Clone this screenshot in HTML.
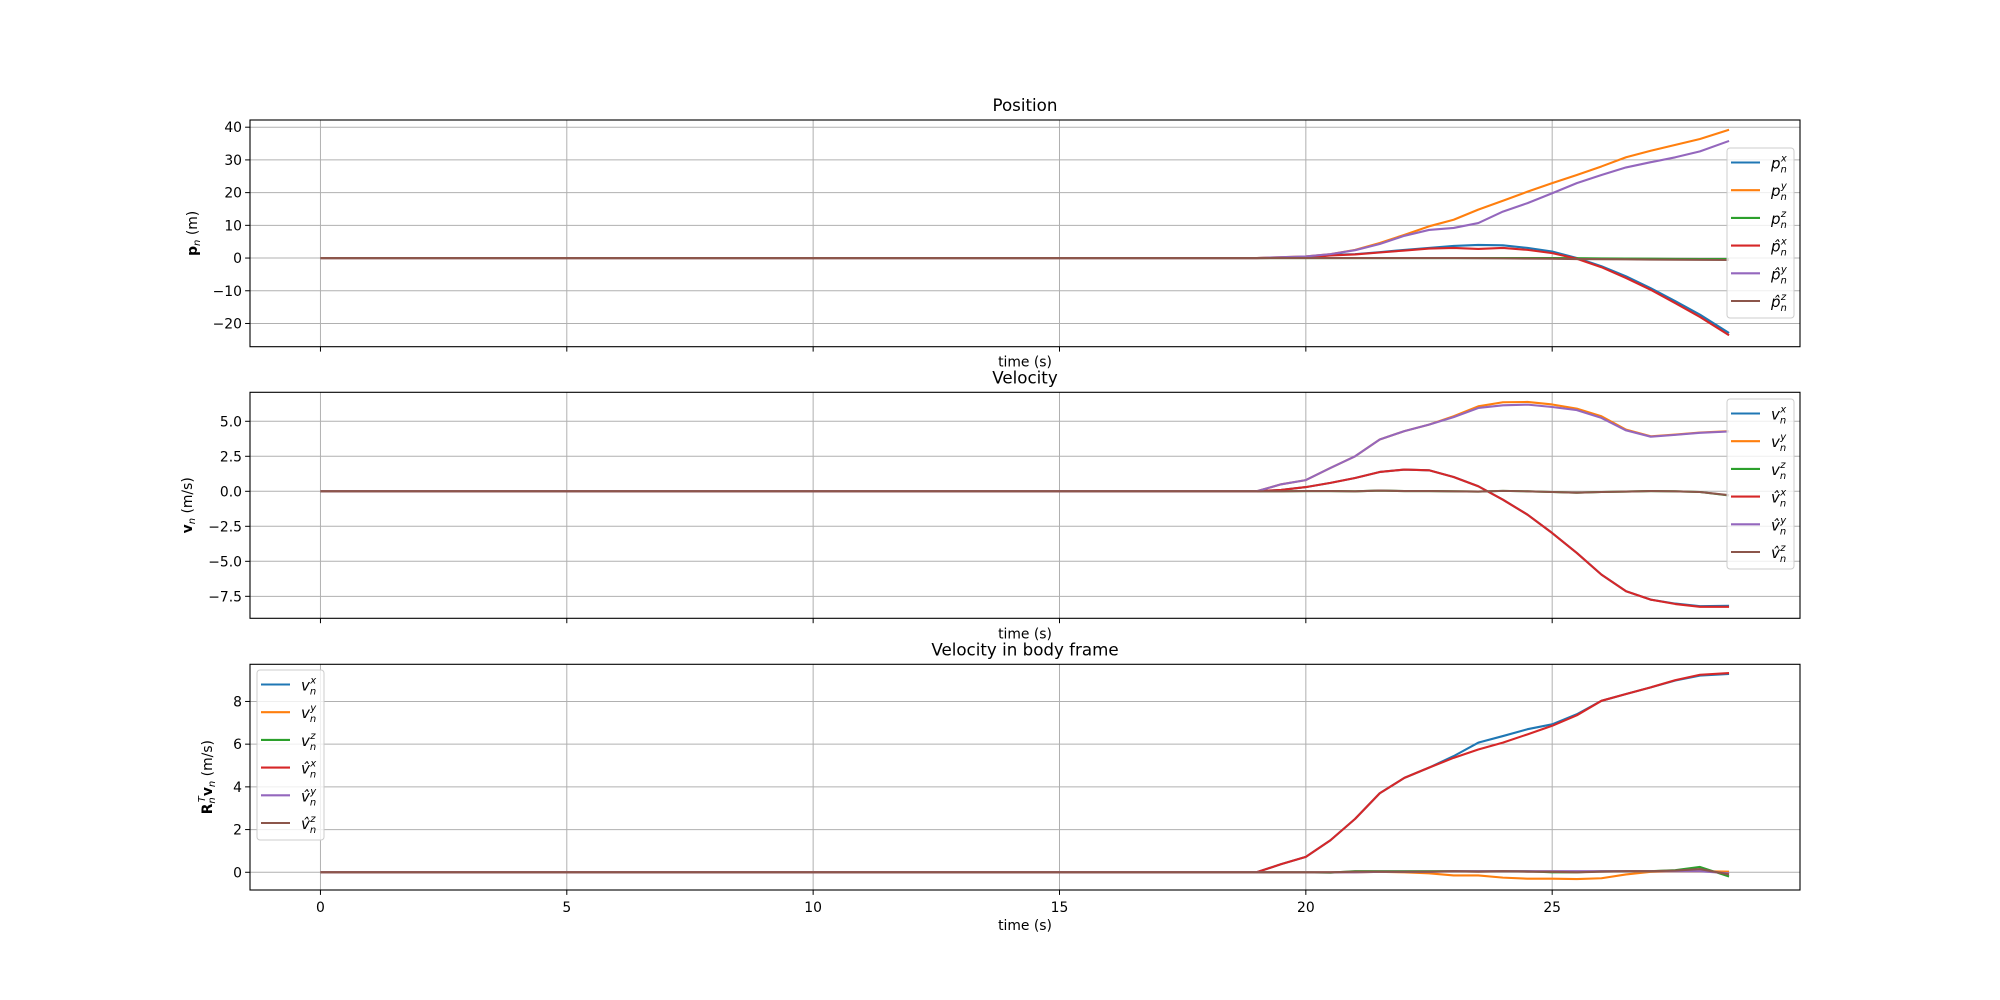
<!DOCTYPE html>
<html><head><meta charset="utf-8"><style>
html,body{margin:0;padding:0;background:#fff;}
svg{display:block;font-family:"DejaVu Sans","Liberation Sans",sans-serif;}
</style></head><body>
<svg id="fig" width="2000" height="1000" viewBox="0 0 2000 1000" xmlns="http://www.w3.org/2000/svg"></svg>
<script>
const T = [0,19,19.5,20,20.5,21,21.5,22,22.5,23,23.5,24,24.5,25,25.5,26,26.5,27,27.5,28,28.5,28.59];
// Position
const T1 = [0,19,20,20.5,21,21.5,22,22.5,23,23.5,24,24.5,25,25.5,26,26.5,27,27.5,28,28.59];
const px  = [0,0,0.1,1,1.2,1.8,2.5,3.1,3.7,4.0,3.9,3.1,2,0,-2.5,-5.6,-9.2,-13.2,-17.3,-22.9];
const py  = [0,0,0.5,1.2,2.5,4.6,7.1,9.7,11.7,14.8,17.5,20.3,22.9,25.4,28,30.8,32.8,34.6,36.4,39.2];
const pz  = [0,0,0,0,0,0,0,0,0,0,0,0,0,-0.05,-0.1,-0.15,-0.2,-0.25,-0.3,-0.3];
const pxh = [0,0,0.1,0.8,1.1,1.7,2.3,2.9,3.1,2.8,3.1,2.5,1.5,-0.2,-2.8,-6.1,-9.7,-13.8,-18,-23.6];
const pyh = [0,0,0.5,1.2,2.4,4.3,6.8,8.6,9.2,10.7,14.2,16.8,19.8,22.9,25.4,27.7,29.3,30.8,32.6,35.8];
const pzh = [0,0,0,0,0,0,0,0,0,-0.05,-0.1,-0.15,-0.2,-0.3,-0.35,-0.4,-0.45,-0.5,-0.55,-0.6];
// Velocity
const T2 = [0,19,19.5,20,20.5,21,21.5,22,22.5,23,23.5,24,24.5,25,25.5,26,26.5,27,27.5,28,28.59];
const vx  = [0,0,0.1,0.3,0.6,0.95,1.38,1.55,1.5,1.02,0.36,-0.6,-1.67,-2.98,-4.4,-5.95,-7.14,-7.74,-8.02,-8.2,-8.18];
const vy  = [0,0,0.5,0.8,1.67,2.5,3.7,4.3,4.76,5.36,6.07,6.36,6.38,6.2,5.9,5.36,4.4,3.93,4.05,4.2,4.29];
const vz  = [0,0,0,0.02,0.02,0,0.05,0.02,0.02,0,-0.02,0.03,0,-0.05,-0.1,-0.05,-0.02,0.02,0,-0.05,-0.3];
const vxh = [0,0,0.1,0.3,0.6,0.95,1.38,1.55,1.5,1.02,0.36,-0.6,-1.67,-2.98,-4.4,-5.95,-7.14,-7.74,-8.05,-8.25,-8.25];
const vyh = [0,0,0.5,0.8,1.67,2.5,3.7,4.3,4.76,5.3,5.95,6.14,6.19,6.02,5.8,5.24,4.35,3.9,4.03,4.18,4.27];
const vzh = [0,0,0,0.02,0.02,0,0.05,0.02,0.02,0,-0.02,0.03,0,-0.05,-0.1,-0.05,-0.02,0.02,0,-0.05,-0.28];
// Body frame velocity
const bx  = [0,0,0.38,0.72,1.5,2.5,3.7,4.42,4.9,5.44,6.07,6.38,6.7,6.93,7.4,8.03,8.35,8.66,8.98,9.21,9.29];
const by  = [0,0,0,0,0,0,0.02,0,-0.05,-0.15,-0.15,-0.25,-0.3,-0.3,-0.32,-0.28,-0.1,0.02,0.05,0.05,0.03];
const bz  = [0,0,0,0,-0.02,0.05,0.05,0.05,0.05,0.05,0.05,0.05,0.05,0,0,0.05,0.05,0.05,0.1,0.25,-0.2];
const bxh = [0,0,0.38,0.72,1.5,2.5,3.7,4.42,4.9,5.36,5.75,6.07,6.46,6.86,7.35,8.03,8.35,8.66,9.0,9.25,9.33];
const byh = [0,0,0,0,0,0,0.02,0.02,0.02,0.05,0.05,0.05,0.05,0.05,0.05,0.05,0.05,0.05,0.05,0.05,-0.05];
const bzh = [0,0,0,0,0,0.03,0.03,0.02,0.03,0.05,0.03,0.05,0.03,0.02,0,0.03,0.05,0.05,0.08,0.15,-0.1];

const xTicks = [0,5,10,15,20,25];
const yTicks1 = [-20,-10,0,10,20,30,40];
const yTicks2 = [-7.5,-5.0,-2.5,0.0,2.5,5.0];
const yTicks3 = [0,2,4,6,8];

const C = ['#1f77b4','#ff7f0e','#2ca02c','#d62728','#9467bd','#8c564b'];
const NS = 'http://www.w3.org/2000/svg';
const svg = document.getElementById('fig');
function mk(tag, attrs, parent){const e=document.createElementNS(NS,tag);for(const k in attrs)e.setAttribute(k,attrs[k]);(parent||svg).appendChild(e);return e;}
const X0=250,X1=1800,XMIN=-1.43,XMAX=30.03;
function sx(v){return X0+(v-XMIN)/(XMAX-XMIN)*(X1-X0);}
function fmt(v,d){return (v<0?'\u2212':'')+Math.abs(v).toFixed(d);}

function legend(g,lx,ly,sym){
  const box=mk('rect',{x:lx,y:ly,width:67,height:170,rx:3,fill:'#fff','fill-opacity':0.8,stroke:'#ccc','stroke-width':1},g);
  
  
  const comps=['x','y','z','x','y','z'];
  for(let i=0;i<6;i++){
    const yy=ly+14.5+i*27.7;
    const ln=mk('line',{x1:lx+4,x2:lx+33,y1:yy,y2:yy,stroke:C[i],'stroke-width':2.1},g);
    
    
    const t=mk('text',{x:lx+44,y:yy+6,'font-size':15,'font-style':'italic',fill:'#000'},g);
    
    
    const base=i<3?sym:sym+'\u0302';
    t.innerHTML=base+'<tspan dy="4" font-size="10">n</tspan><tspan dx="-6" dy="-11" font-size="10">'+comps[i]+'</tspan>';
  }
}

function panel(name,top,bot,ymin,ymax,yticks,dec,title,ylabelHTML,ylabX,tt,series,sym,legXY){
  const g=mk('g',{});
  
  
  const sy=v=>bot-(v-ymin)/(ymax-ymin)*(bot-top);
  // grid
  xTicks.forEach(v=>{
    const gl=mk('line',{x1:sx(v),x2:sx(v),y1:top,y2:bot,stroke:'#b0b0b0','stroke-width':1},g);
    
    
    const tk=mk('line',{x1:sx(v),x2:sx(v),y1:bot,y2:bot+4.9,stroke:'#000','stroke-width':1},g);
    
    
    if(name==='body-velocity-panel'){
      const tl=mk('text',{x:sx(v),y:bot+22,'font-size':13.9,'text-anchor':'middle',fill:'#000'},g);
      
      
      tl.textContent=String(v);
    }
  });
  yticks.forEach(v=>{
    const gl=mk('line',{x1:X0,x2:X1,y1:sy(v),y2:sy(v),stroke:'#b0b0b0','stroke-width':1},g);
    
    
    const tk=mk('line',{x1:X0-4.9,x2:X0,y1:sy(v),y2:sy(v),stroke:'#000','stroke-width':1},g);
    
    
    const tl=mk('text',{x:X0-8,y:sy(v)+5,'font-size':13.9,'text-anchor':'end',fill:'#000'},g);
    
    
    tl.textContent=fmt(v,dec);
  });
  // series
  series.forEach((s,i)=>{
    const d=tt.map((t,k)=>(k?'L':'M')+sx(t).toFixed(2)+','+sy(s[k]).toFixed(2)).join(' ');
    const p=mk('path',{d:d,fill:'none',stroke:C[i],'stroke-width':2.1,'stroke-linejoin':'round'},g);
    
    
  });
  const fr=mk('rect',{x:X0,y:top,width:X1-X0,height:bot-top,fill:'none',stroke:'#000','stroke-width':1.1},g);
  
  
  const ti=mk('text',{x:(X0+X1)/2,y:top-9,'font-size':16.7,'text-anchor':'middle',fill:'#000'},g);
  
  
  ti.textContent=title;
  const xl=mk('text',{x:(X0+X1)/2,y:(name==='body-velocity-panel'?bot+40:bot+20),'font-size':13.9,'text-anchor':'middle',fill:'#000'},g);
  
  
  xl.textContent='time (s)';
  const cy=(top+bot)/2;
  const yl=mk('text',{x:ylabX,y:cy,'font-size':13.9,'text-anchor':'middle',fill:'#000',transform:'rotate(-90 '+ylabX+' '+cy+')'},g);
  
  
  yl.innerHTML=ylabelHTML;
  legend(g,legXY[0],legXY[1],sym);
}

panel('position-panel',120,346.7,-27.1,42.2,yTicks1,0,'Position',
  '<tspan font-weight="bold">p</tspan><tspan font-style="italic" font-size="10" dy="3">n</tspan><tspan dy="-3"> (m)</tspan>',
  197,T1,[px,py,pz,pxh,pyh,pzh],'p',[1727,148]);
panel('velocity-panel',392.3,618.3,-9.07,7.07,yTicks2,1,'Velocity',
  '<tspan font-weight="bold">v</tspan><tspan font-style="italic" font-size="10" dy="3">n</tspan><tspan dy="-3"> (m/s)</tspan>',
  192,T2,[vx,vy,vz,vxh,vyh,vzh],'v',[1727,399]);
panel('body-velocity-panel',664.3,890,-0.83,9.74,yTicks3,0,'Velocity in body frame',
  '<tspan font-weight="bold">R</tspan><tspan font-style="italic" font-size="10" dy="3">n</tspan><tspan font-style="italic" font-size="10" dx="-5" dy="-10">T</tspan><tspan font-weight="bold" dy="7">v</tspan><tspan font-style="italic" font-size="10" dy="3">n</tspan><tspan dy="-3"> (m/s)</tspan>',
  212,T2,[bx,by,bz,bxh,byh,bzh],'v',[257,670]);
</script>
</body></html>
